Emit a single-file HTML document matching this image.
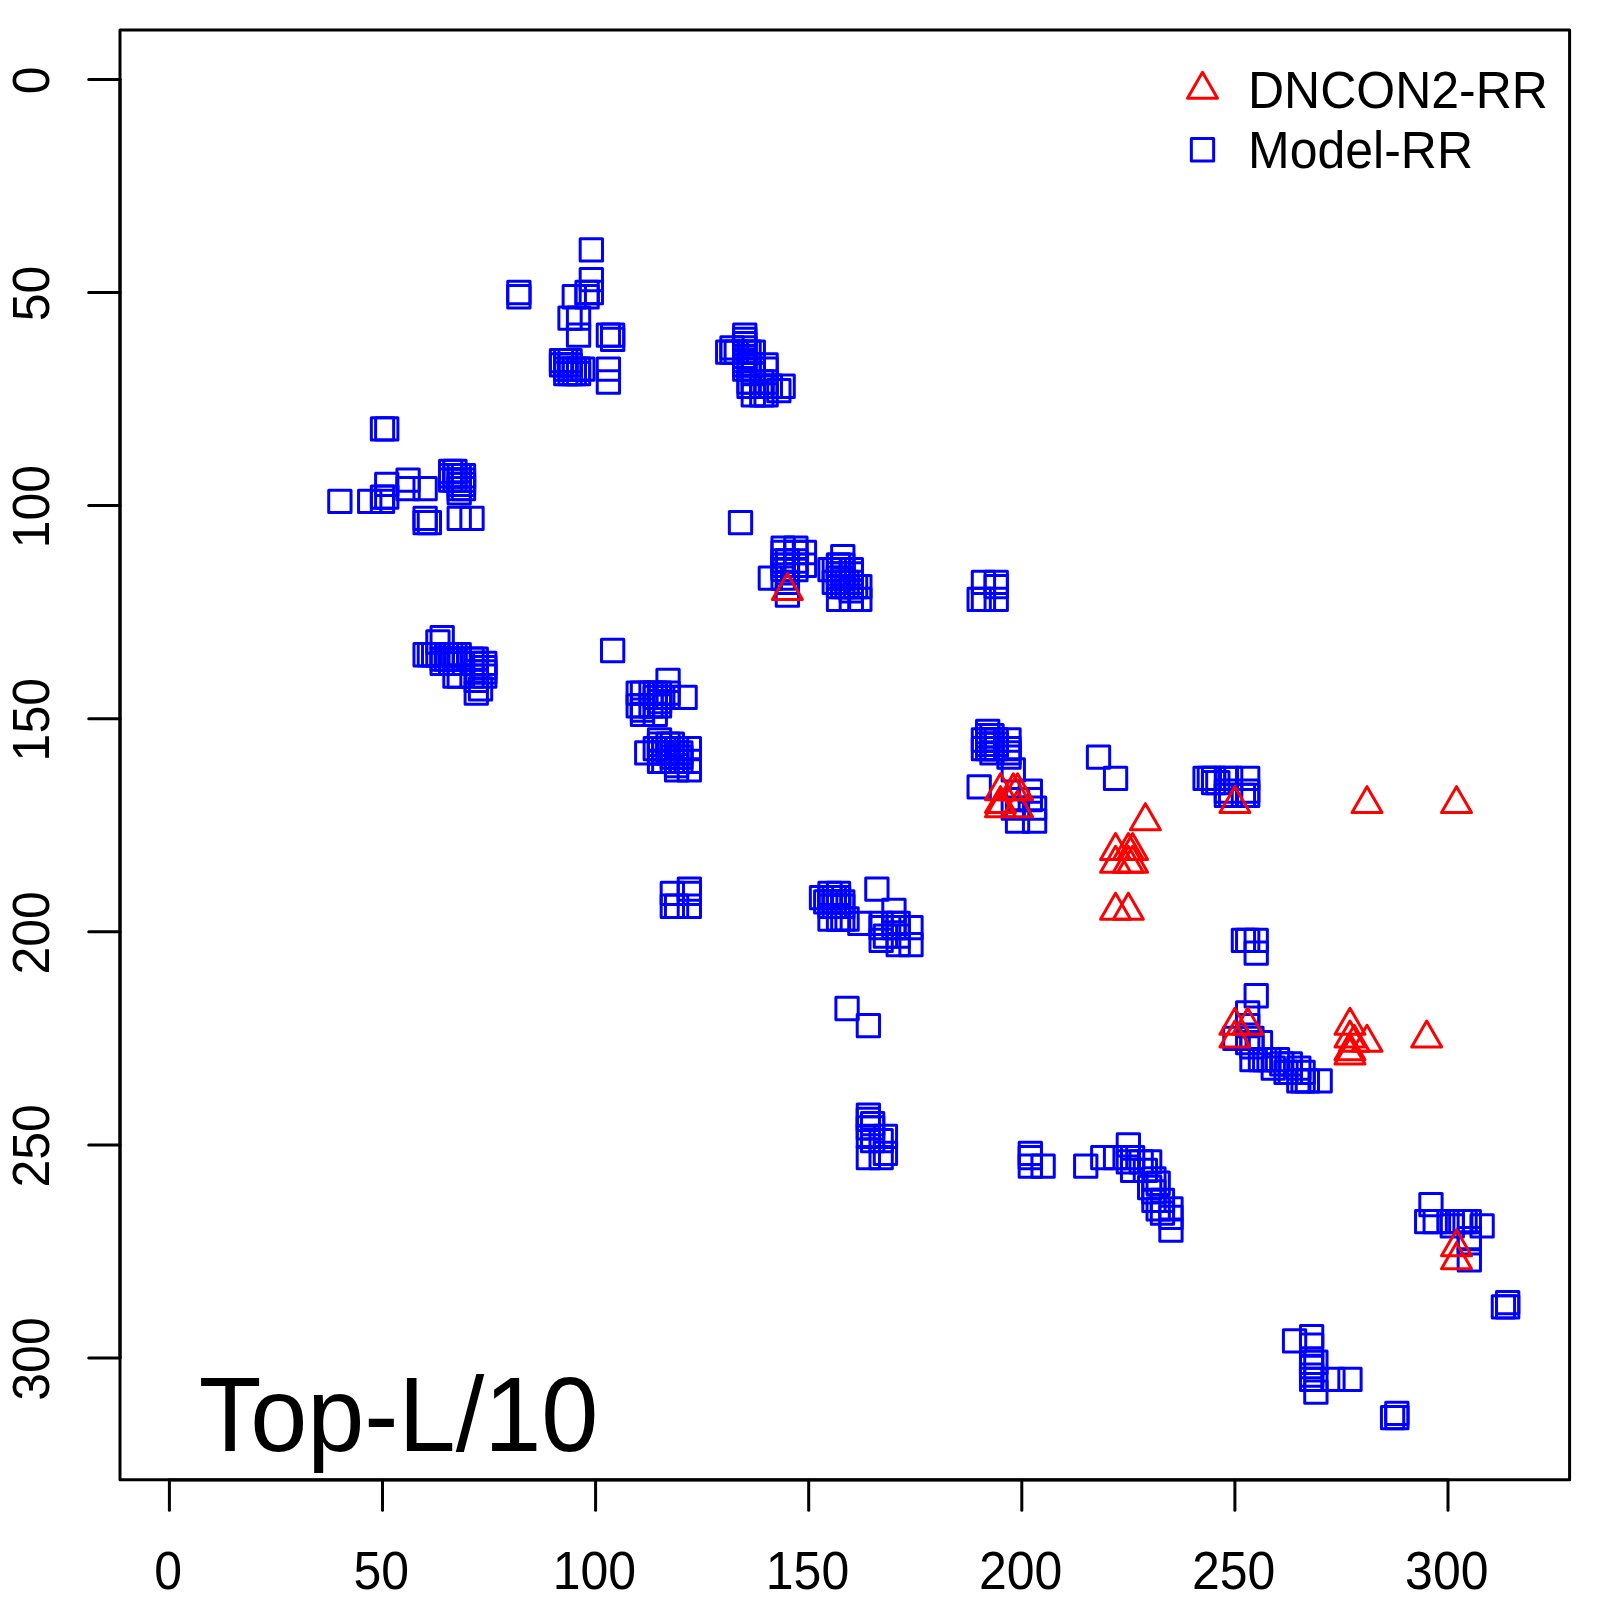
<!DOCTYPE html>
<html><head><meta charset="utf-8"><style>
html,body{margin:0;padding:0;background:#fff;width:1600px;height:1600px;overflow:hidden}
svg{display:block}
text{font-family:"Liberation Sans",sans-serif;fill:#000}
</style></head><body>
<svg width="1600" height="1600" viewBox="0 0 1600 1600">
<rect x="0" y="0" width="1600" height="1600" fill="#fff"/>

<rect x="120" y="30" width="1449.6" height="1449.8" fill="none" stroke="#000" stroke-width="3" stroke-linejoin="round"/>
<g stroke="#000" stroke-width="3" stroke-linecap="round" fill="none">
<line x1="169.40" y1="1480" x2="1448.00" y2="1480"/>
<line x1="169.40" y1="1480" x2="169.40" y2="1510.3"/>
<line x1="382.50" y1="1480" x2="382.50" y2="1510.3"/>
<line x1="595.60" y1="1480" x2="595.60" y2="1510.3"/>
<line x1="808.70" y1="1480" x2="808.70" y2="1510.3"/>
<line x1="1021.80" y1="1480" x2="1021.80" y2="1510.3"/>
<line x1="1234.90" y1="1480" x2="1234.90" y2="1510.3"/>
<line x1="1448.00" y1="1480" x2="1448.00" y2="1510.3"/>
<line x1="120" y1="79.40" x2="120" y2="1358.00"/>
<line x1="120" y1="79.40" x2="88.75" y2="79.40"/>
<line x1="120" y1="292.50" x2="88.75" y2="292.50"/>
<line x1="120" y1="505.60" x2="88.75" y2="505.60"/>
<line x1="120" y1="718.70" x2="88.75" y2="718.70"/>
<line x1="120" y1="931.80" x2="88.75" y2="931.80"/>
<line x1="120" y1="1144.90" x2="88.75" y2="1144.90"/>
<line x1="120" y1="1358.00" x2="88.75" y2="1358.00"/>
</g>
<g font-size="50" text-anchor="middle">
<text x="168.20" y="0" transform="translate(0 1588.8) scale(1 1.055)">0</text>
<text x="381.30" y="0" transform="translate(0 1588.8) scale(1 1.055)">50</text>
<text x="594.40" y="0" transform="translate(0 1588.8) scale(1 1.055)">100</text>
<text x="807.50" y="0" transform="translate(0 1588.8) scale(1 1.055)">150</text>
<text x="1020.60" y="0" transform="translate(0 1588.8) scale(1 1.055)">200</text>
<text x="1233.70" y="0" transform="translate(0 1588.8) scale(1 1.055)">250</text>
<text x="1446.80" y="0" transform="translate(0 1588.8) scale(1 1.055)">300</text>
<text x="0" y="0" transform="translate(48.6 80.40) rotate(-90) scale(1 1.04)">0</text>
<text x="0" y="0" transform="translate(48.6 293.50) rotate(-90) scale(1 1.04)">50</text>
<text x="0" y="0" transform="translate(48.6 506.60) rotate(-90) scale(1 1.04)">100</text>
<text x="0" y="0" transform="translate(48.6 719.70) rotate(-90) scale(1 1.04)">150</text>
<text x="0" y="0" transform="translate(48.6 932.80) rotate(-90) scale(1 1.04)">200</text>
<text x="0" y="0" transform="translate(48.6 1145.90) rotate(-90) scale(1 1.04)">250</text>
<text x="0" y="0" transform="translate(48.6 1359.00) rotate(-90) scale(1 1.04)">300</text>
</g>
<g fill="none" stroke="#0000ff" stroke-width="3" stroke-linejoin="round">
<rect x="729.36" y="511.50" width="22.3" height="22.3"/>
<rect x="371.35" y="417.73" width="22.3" height="22.3"/>
<rect x="375.61" y="417.73" width="22.3" height="22.3"/>
<rect x="328.73" y="490.19" width="22.3" height="22.3"/>
<rect x="358.56" y="490.19" width="22.3" height="22.3"/>
<rect x="371.35" y="485.93" width="22.3" height="22.3"/>
<rect x="371.35" y="490.19" width="22.3" height="22.3"/>
<rect x="375.61" y="473.14" width="22.3" height="22.3"/>
<rect x="375.61" y="485.93" width="22.3" height="22.3"/>
<rect x="396.92" y="468.88" width="22.3" height="22.3"/>
<rect x="396.92" y="477.40" width="22.3" height="22.3"/>
<rect x="413.97" y="477.40" width="22.3" height="22.3"/>
<rect x="439.54" y="460.35" width="22.3" height="22.3"/>
<rect x="439.54" y="464.62" width="22.3" height="22.3"/>
<rect x="439.54" y="468.88" width="22.3" height="22.3"/>
<rect x="443.80" y="460.35" width="22.3" height="22.3"/>
<rect x="443.80" y="464.62" width="22.3" height="22.3"/>
<rect x="443.80" y="468.88" width="22.3" height="22.3"/>
<rect x="448.07" y="464.62" width="22.3" height="22.3"/>
<rect x="448.07" y="468.88" width="22.3" height="22.3"/>
<rect x="448.07" y="473.14" width="22.3" height="22.3"/>
<rect x="448.07" y="477.40" width="22.3" height="22.3"/>
<rect x="448.07" y="481.66" width="22.3" height="22.3"/>
<rect x="452.33" y="464.62" width="22.3" height="22.3"/>
<rect x="452.33" y="468.88" width="22.3" height="22.3"/>
<rect x="452.33" y="473.14" width="22.3" height="22.3"/>
<rect x="452.33" y="477.40" width="22.3" height="22.3"/>
<rect x="413.97" y="507.24" width="22.3" height="22.3"/>
<rect x="413.97" y="511.50" width="22.3" height="22.3"/>
<rect x="418.23" y="511.50" width="22.3" height="22.3"/>
<rect x="448.07" y="507.24" width="22.3" height="22.3"/>
<rect x="460.85" y="507.24" width="22.3" height="22.3"/>
<rect x="580.19" y="238.73" width="22.3" height="22.3"/>
<rect x="507.73" y="281.35" width="22.3" height="22.3"/>
<rect x="507.73" y="285.61" width="22.3" height="22.3"/>
<rect x="580.19" y="268.56" width="22.3" height="22.3"/>
<rect x="563.14" y="285.61" width="22.3" height="22.3"/>
<rect x="575.93" y="281.35" width="22.3" height="22.3"/>
<rect x="575.93" y="285.61" width="22.3" height="22.3"/>
<rect x="580.19" y="281.35" width="22.3" height="22.3"/>
<rect x="558.88" y="306.92" width="22.3" height="22.3"/>
<rect x="567.40" y="306.92" width="22.3" height="22.3"/>
<rect x="567.40" y="323.97" width="22.3" height="22.3"/>
<rect x="597.24" y="323.97" width="22.3" height="22.3"/>
<rect x="601.50" y="323.97" width="22.3" height="22.3"/>
<rect x="601.50" y="328.23" width="22.3" height="22.3"/>
<rect x="597.24" y="358.07" width="22.3" height="22.3"/>
<rect x="597.24" y="370.85" width="22.3" height="22.3"/>
<rect x="550.35" y="349.54" width="22.3" height="22.3"/>
<rect x="550.35" y="353.80" width="22.3" height="22.3"/>
<rect x="554.62" y="349.54" width="22.3" height="22.3"/>
<rect x="554.62" y="353.80" width="22.3" height="22.3"/>
<rect x="554.62" y="358.07" width="22.3" height="22.3"/>
<rect x="554.62" y="362.33" width="22.3" height="22.3"/>
<rect x="558.88" y="349.54" width="22.3" height="22.3"/>
<rect x="558.88" y="353.80" width="22.3" height="22.3"/>
<rect x="558.88" y="358.07" width="22.3" height="22.3"/>
<rect x="558.88" y="362.33" width="22.3" height="22.3"/>
<rect x="563.14" y="358.07" width="22.3" height="22.3"/>
<rect x="563.14" y="362.33" width="22.3" height="22.3"/>
<rect x="567.40" y="358.07" width="22.3" height="22.3"/>
<rect x="567.40" y="362.33" width="22.3" height="22.3"/>
<rect x="571.66" y="358.07" width="22.3" height="22.3"/>
<rect x="716.57" y="341.02" width="22.3" height="22.3"/>
<rect x="720.83" y="336.76" width="22.3" height="22.3"/>
<rect x="720.83" y="341.02" width="22.3" height="22.3"/>
<rect x="725.10" y="341.02" width="22.3" height="22.3"/>
<rect x="733.62" y="323.97" width="22.3" height="22.3"/>
<rect x="733.62" y="328.23" width="22.3" height="22.3"/>
<rect x="733.62" y="332.49" width="22.3" height="22.3"/>
<rect x="733.62" y="336.76" width="22.3" height="22.3"/>
<rect x="733.62" y="341.02" width="22.3" height="22.3"/>
<rect x="733.62" y="345.28" width="22.3" height="22.3"/>
<rect x="733.62" y="349.54" width="22.3" height="22.3"/>
<rect x="733.62" y="353.80" width="22.3" height="22.3"/>
<rect x="733.62" y="358.07" width="22.3" height="22.3"/>
<rect x="737.88" y="341.02" width="22.3" height="22.3"/>
<rect x="737.88" y="353.80" width="22.3" height="22.3"/>
<rect x="737.88" y="358.07" width="22.3" height="22.3"/>
<rect x="737.88" y="370.85" width="22.3" height="22.3"/>
<rect x="737.88" y="375.11" width="22.3" height="22.3"/>
<rect x="742.14" y="341.02" width="22.3" height="22.3"/>
<rect x="742.14" y="353.80" width="22.3" height="22.3"/>
<rect x="742.14" y="358.07" width="22.3" height="22.3"/>
<rect x="742.14" y="362.33" width="22.3" height="22.3"/>
<rect x="742.14" y="370.85" width="22.3" height="22.3"/>
<rect x="742.14" y="383.64" width="22.3" height="22.3"/>
<rect x="750.67" y="370.85" width="22.3" height="22.3"/>
<rect x="750.67" y="375.11" width="22.3" height="22.3"/>
<rect x="750.67" y="383.64" width="22.3" height="22.3"/>
<rect x="754.93" y="353.80" width="22.3" height="22.3"/>
<rect x="754.93" y="358.07" width="22.3" height="22.3"/>
<rect x="754.93" y="370.85" width="22.3" height="22.3"/>
<rect x="754.93" y="375.11" width="22.3" height="22.3"/>
<rect x="754.93" y="383.64" width="22.3" height="22.3"/>
<rect x="759.19" y="375.11" width="22.3" height="22.3"/>
<rect x="767.72" y="379.38" width="22.3" height="22.3"/>
<rect x="771.98" y="375.11" width="22.3" height="22.3"/>
<rect x="627.07" y="681.98" width="22.3" height="22.3"/>
<rect x="627.07" y="694.76" width="22.3" height="22.3"/>
<rect x="631.33" y="681.98" width="22.3" height="22.3"/>
<rect x="631.33" y="694.76" width="22.3" height="22.3"/>
<rect x="631.33" y="699.03" width="22.3" height="22.3"/>
<rect x="631.33" y="703.29" width="22.3" height="22.3"/>
<rect x="639.86" y="681.98" width="22.3" height="22.3"/>
<rect x="639.86" y="694.76" width="22.3" height="22.3"/>
<rect x="644.12" y="681.98" width="22.3" height="22.3"/>
<rect x="644.12" y="686.24" width="22.3" height="22.3"/>
<rect x="644.12" y="694.76" width="22.3" height="22.3"/>
<rect x="644.12" y="703.29" width="22.3" height="22.3"/>
<rect x="648.38" y="681.98" width="22.3" height="22.3"/>
<rect x="648.38" y="686.24" width="22.3" height="22.3"/>
<rect x="648.38" y="690.50" width="22.3" height="22.3"/>
<rect x="648.38" y="694.76" width="22.3" height="22.3"/>
<rect x="656.90" y="669.19" width="22.3" height="22.3"/>
<rect x="656.90" y="681.98" width="22.3" height="22.3"/>
<rect x="656.90" y="686.24" width="22.3" height="22.3"/>
<rect x="673.95" y="686.24" width="22.3" height="22.3"/>
<rect x="648.38" y="728.86" width="22.3" height="22.3"/>
<rect x="661.17" y="733.12" width="22.3" height="22.3"/>
<rect x="635.59" y="741.65" width="22.3" height="22.3"/>
<rect x="644.12" y="737.38" width="22.3" height="22.3"/>
<rect x="648.38" y="733.12" width="22.3" height="22.3"/>
<rect x="648.38" y="737.38" width="22.3" height="22.3"/>
<rect x="648.38" y="741.65" width="22.3" height="22.3"/>
<rect x="648.38" y="750.17" width="22.3" height="22.3"/>
<rect x="652.64" y="737.38" width="22.3" height="22.3"/>
<rect x="652.64" y="741.65" width="22.3" height="22.3"/>
<rect x="652.64" y="750.17" width="22.3" height="22.3"/>
<rect x="656.90" y="733.12" width="22.3" height="22.3"/>
<rect x="656.90" y="737.38" width="22.3" height="22.3"/>
<rect x="656.90" y="741.65" width="22.3" height="22.3"/>
<rect x="661.17" y="737.38" width="22.3" height="22.3"/>
<rect x="661.17" y="741.65" width="22.3" height="22.3"/>
<rect x="661.17" y="745.91" width="22.3" height="22.3"/>
<rect x="661.17" y="750.17" width="22.3" height="22.3"/>
<rect x="665.43" y="737.38" width="22.3" height="22.3"/>
<rect x="665.43" y="741.65" width="22.3" height="22.3"/>
<rect x="665.43" y="745.91" width="22.3" height="22.3"/>
<rect x="665.43" y="750.17" width="22.3" height="22.3"/>
<rect x="665.43" y="754.43" width="22.3" height="22.3"/>
<rect x="665.43" y="758.69" width="22.3" height="22.3"/>
<rect x="669.69" y="741.65" width="22.3" height="22.3"/>
<rect x="669.69" y="745.91" width="22.3" height="22.3"/>
<rect x="669.69" y="750.17" width="22.3" height="22.3"/>
<rect x="678.21" y="737.38" width="22.3" height="22.3"/>
<rect x="678.21" y="750.17" width="22.3" height="22.3"/>
<rect x="678.21" y="758.69" width="22.3" height="22.3"/>
<rect x="771.98" y="537.07" width="22.3" height="22.3"/>
<rect x="771.98" y="541.33" width="22.3" height="22.3"/>
<rect x="771.98" y="549.86" width="22.3" height="22.3"/>
<rect x="771.98" y="554.12" width="22.3" height="22.3"/>
<rect x="771.98" y="558.38" width="22.3" height="22.3"/>
<rect x="771.98" y="566.90" width="22.3" height="22.3"/>
<rect x="776.24" y="549.86" width="22.3" height="22.3"/>
<rect x="776.24" y="554.12" width="22.3" height="22.3"/>
<rect x="776.24" y="558.38" width="22.3" height="22.3"/>
<rect x="776.24" y="571.17" width="22.3" height="22.3"/>
<rect x="776.24" y="583.95" width="22.3" height="22.3"/>
<rect x="784.76" y="537.07" width="22.3" height="22.3"/>
<rect x="784.76" y="541.33" width="22.3" height="22.3"/>
<rect x="784.76" y="549.86" width="22.3" height="22.3"/>
<rect x="784.76" y="554.12" width="22.3" height="22.3"/>
<rect x="784.76" y="558.38" width="22.3" height="22.3"/>
<rect x="793.29" y="541.33" width="22.3" height="22.3"/>
<rect x="793.29" y="554.12" width="22.3" height="22.3"/>
<rect x="759.19" y="566.90" width="22.3" height="22.3"/>
<rect x="831.65" y="545.59" width="22.3" height="22.3"/>
<rect x="827.38" y="554.12" width="22.3" height="22.3"/>
<rect x="818.86" y="558.38" width="22.3" height="22.3"/>
<rect x="840.17" y="558.38" width="22.3" height="22.3"/>
<rect x="848.69" y="575.43" width="22.3" height="22.3"/>
<rect x="823.12" y="558.38" width="22.3" height="22.3"/>
<rect x="823.12" y="571.17" width="22.3" height="22.3"/>
<rect x="827.38" y="554.12" width="22.3" height="22.3"/>
<rect x="827.38" y="558.38" width="22.3" height="22.3"/>
<rect x="827.38" y="562.64" width="22.3" height="22.3"/>
<rect x="827.38" y="566.90" width="22.3" height="22.3"/>
<rect x="827.38" y="571.17" width="22.3" height="22.3"/>
<rect x="827.38" y="575.43" width="22.3" height="22.3"/>
<rect x="827.38" y="588.21" width="22.3" height="22.3"/>
<rect x="831.65" y="554.12" width="22.3" height="22.3"/>
<rect x="831.65" y="558.38" width="22.3" height="22.3"/>
<rect x="831.65" y="562.64" width="22.3" height="22.3"/>
<rect x="831.65" y="566.90" width="22.3" height="22.3"/>
<rect x="831.65" y="571.17" width="22.3" height="22.3"/>
<rect x="831.65" y="575.43" width="22.3" height="22.3"/>
<rect x="835.91" y="571.17" width="22.3" height="22.3"/>
<rect x="835.91" y="575.43" width="22.3" height="22.3"/>
<rect x="840.17" y="562.64" width="22.3" height="22.3"/>
<rect x="840.17" y="571.17" width="22.3" height="22.3"/>
<rect x="840.17" y="575.43" width="22.3" height="22.3"/>
<rect x="840.17" y="579.69" width="22.3" height="22.3"/>
<rect x="840.17" y="588.21" width="22.3" height="22.3"/>
<rect x="844.43" y="575.43" width="22.3" height="22.3"/>
<rect x="848.69" y="588.21" width="22.3" height="22.3"/>
<rect x="431.02" y="626.57" width="22.3" height="22.3"/>
<rect x="426.76" y="630.83" width="22.3" height="22.3"/>
<rect x="413.97" y="643.62" width="22.3" height="22.3"/>
<rect x="418.23" y="643.62" width="22.3" height="22.3"/>
<rect x="422.49" y="643.62" width="22.3" height="22.3"/>
<rect x="426.76" y="643.62" width="22.3" height="22.3"/>
<rect x="431.02" y="643.62" width="22.3" height="22.3"/>
<rect x="435.28" y="643.62" width="22.3" height="22.3"/>
<rect x="439.54" y="643.62" width="22.3" height="22.3"/>
<rect x="443.80" y="643.62" width="22.3" height="22.3"/>
<rect x="448.07" y="643.62" width="22.3" height="22.3"/>
<rect x="431.02" y="647.88" width="22.3" height="22.3"/>
<rect x="435.28" y="647.88" width="22.3" height="22.3"/>
<rect x="439.54" y="647.88" width="22.3" height="22.3"/>
<rect x="443.80" y="647.88" width="22.3" height="22.3"/>
<rect x="448.07" y="647.88" width="22.3" height="22.3"/>
<rect x="460.85" y="647.88" width="22.3" height="22.3"/>
<rect x="465.11" y="647.88" width="22.3" height="22.3"/>
<rect x="431.02" y="652.14" width="22.3" height="22.3"/>
<rect x="439.54" y="652.14" width="22.3" height="22.3"/>
<rect x="448.07" y="652.14" width="22.3" height="22.3"/>
<rect x="465.11" y="652.14" width="22.3" height="22.3"/>
<rect x="473.64" y="652.14" width="22.3" height="22.3"/>
<rect x="443.80" y="664.93" width="22.3" height="22.3"/>
<rect x="448.07" y="664.93" width="22.3" height="22.3"/>
<rect x="460.85" y="664.93" width="22.3" height="22.3"/>
<rect x="473.64" y="656.41" width="22.3" height="22.3"/>
<rect x="473.64" y="660.67" width="22.3" height="22.3"/>
<rect x="473.64" y="664.93" width="22.3" height="22.3"/>
<rect x="465.11" y="660.67" width="22.3" height="22.3"/>
<rect x="465.11" y="669.19" width="22.3" height="22.3"/>
<rect x="465.11" y="681.98" width="22.3" height="22.3"/>
<rect x="469.38" y="677.72" width="22.3" height="22.3"/>
<rect x="601.50" y="639.36" width="22.3" height="22.3"/>
<rect x="678.21" y="878.03" width="22.3" height="22.3"/>
<rect x="678.21" y="882.29" width="22.3" height="22.3"/>
<rect x="661.17" y="882.29" width="22.3" height="22.3"/>
<rect x="661.17" y="895.08" width="22.3" height="22.3"/>
<rect x="665.43" y="895.08" width="22.3" height="22.3"/>
<rect x="678.21" y="895.08" width="22.3" height="22.3"/>
<rect x="810.34" y="886.55" width="22.3" height="22.3"/>
<rect x="814.60" y="890.82" width="22.3" height="22.3"/>
<rect x="818.86" y="882.29" width="22.3" height="22.3"/>
<rect x="827.38" y="882.29" width="22.3" height="22.3"/>
<rect x="818.86" y="886.55" width="22.3" height="22.3"/>
<rect x="818.86" y="890.82" width="22.3" height="22.3"/>
<rect x="818.86" y="895.08" width="22.3" height="22.3"/>
<rect x="818.86" y="907.86" width="22.3" height="22.3"/>
<rect x="823.12" y="886.55" width="22.3" height="22.3"/>
<rect x="823.12" y="890.82" width="22.3" height="22.3"/>
<rect x="823.12" y="895.08" width="22.3" height="22.3"/>
<rect x="827.38" y="886.55" width="22.3" height="22.3"/>
<rect x="827.38" y="890.82" width="22.3" height="22.3"/>
<rect x="827.38" y="895.08" width="22.3" height="22.3"/>
<rect x="827.38" y="907.86" width="22.3" height="22.3"/>
<rect x="831.65" y="890.82" width="22.3" height="22.3"/>
<rect x="831.65" y="895.08" width="22.3" height="22.3"/>
<rect x="831.65" y="907.86" width="22.3" height="22.3"/>
<rect x="835.91" y="907.86" width="22.3" height="22.3"/>
<rect x="865.74" y="878.03" width="22.3" height="22.3"/>
<rect x="882.79" y="899.34" width="22.3" height="22.3"/>
<rect x="848.69" y="912.13" width="22.3" height="22.3"/>
<rect x="899.84" y="916.39" width="22.3" height="22.3"/>
<rect x="899.84" y="933.44" width="22.3" height="22.3"/>
<rect x="870.00" y="912.13" width="22.3" height="22.3"/>
<rect x="870.00" y="916.39" width="22.3" height="22.3"/>
<rect x="870.00" y="929.17" width="22.3" height="22.3"/>
<rect x="874.27" y="924.91" width="22.3" height="22.3"/>
<rect x="882.79" y="912.13" width="22.3" height="22.3"/>
<rect x="882.79" y="916.39" width="22.3" height="22.3"/>
<rect x="887.05" y="912.13" width="22.3" height="22.3"/>
<rect x="887.05" y="916.39" width="22.3" height="22.3"/>
<rect x="887.05" y="924.91" width="22.3" height="22.3"/>
<rect x="887.05" y="933.44" width="22.3" height="22.3"/>
<rect x="972.29" y="571.17" width="22.3" height="22.3"/>
<rect x="985.08" y="571.17" width="22.3" height="22.3"/>
<rect x="985.08" y="575.43" width="22.3" height="22.3"/>
<rect x="968.03" y="588.21" width="22.3" height="22.3"/>
<rect x="972.29" y="588.21" width="22.3" height="22.3"/>
<rect x="985.08" y="588.21" width="22.3" height="22.3"/>
<rect x="976.55" y="720.34" width="22.3" height="22.3"/>
<rect x="980.82" y="724.60" width="22.3" height="22.3"/>
<rect x="972.29" y="728.86" width="22.3" height="22.3"/>
<rect x="972.29" y="737.38" width="22.3" height="22.3"/>
<rect x="980.82" y="741.65" width="22.3" height="22.3"/>
<rect x="997.86" y="745.91" width="22.3" height="22.3"/>
<rect x="976.55" y="724.60" width="22.3" height="22.3"/>
<rect x="976.55" y="728.86" width="22.3" height="22.3"/>
<rect x="976.55" y="733.12" width="22.3" height="22.3"/>
<rect x="976.55" y="737.38" width="22.3" height="22.3"/>
<rect x="980.82" y="728.86" width="22.3" height="22.3"/>
<rect x="980.82" y="733.12" width="22.3" height="22.3"/>
<rect x="980.82" y="737.38" width="22.3" height="22.3"/>
<rect x="985.08" y="728.86" width="22.3" height="22.3"/>
<rect x="985.08" y="733.12" width="22.3" height="22.3"/>
<rect x="985.08" y="737.38" width="22.3" height="22.3"/>
<rect x="997.86" y="728.86" width="22.3" height="22.3"/>
<rect x="997.86" y="737.38" width="22.3" height="22.3"/>
<rect x="997.86" y="741.65" width="22.3" height="22.3"/>
<rect x="968.03" y="775.74" width="22.3" height="22.3"/>
<rect x="1002.13" y="758.69" width="22.3" height="22.3"/>
<rect x="1002.13" y="797.05" width="22.3" height="22.3"/>
<rect x="1019.17" y="780.00" width="22.3" height="22.3"/>
<rect x="1023.44" y="797.05" width="22.3" height="22.3"/>
<rect x="1006.39" y="809.84" width="22.3" height="22.3"/>
<rect x="1023.44" y="809.84" width="22.3" height="22.3"/>
<rect x="1019.17" y="788.53" width="22.3" height="22.3"/>
<rect x="1006.39" y="788.53" width="22.3" height="22.3"/>
<rect x="1087.37" y="745.91" width="22.3" height="22.3"/>
<rect x="1104.41" y="767.22" width="22.3" height="22.3"/>
<rect x="1193.92" y="767.22" width="22.3" height="22.3"/>
<rect x="1198.18" y="767.22" width="22.3" height="22.3"/>
<rect x="1202.44" y="767.22" width="22.3" height="22.3"/>
<rect x="1202.44" y="771.48" width="22.3" height="22.3"/>
<rect x="1206.70" y="771.48" width="22.3" height="22.3"/>
<rect x="1215.23" y="767.22" width="22.3" height="22.3"/>
<rect x="1219.49" y="767.22" width="22.3" height="22.3"/>
<rect x="1215.23" y="780.00" width="22.3" height="22.3"/>
<rect x="1215.23" y="784.27" width="22.3" height="22.3"/>
<rect x="1219.49" y="784.27" width="22.3" height="22.3"/>
<rect x="1232.27" y="784.27" width="22.3" height="22.3"/>
<rect x="1236.54" y="767.22" width="22.3" height="22.3"/>
<rect x="1236.54" y="780.00" width="22.3" height="22.3"/>
<rect x="1236.54" y="784.27" width="22.3" height="22.3"/>
<rect x="1232.27" y="929.17" width="22.3" height="22.3"/>
<rect x="1236.54" y="929.17" width="22.3" height="22.3"/>
<rect x="1245.06" y="929.17" width="22.3" height="22.3"/>
<rect x="1245.06" y="941.96" width="22.3" height="22.3"/>
<rect x="1245.06" y="984.58" width="22.3" height="22.3"/>
<rect x="1236.54" y="1001.63" width="22.3" height="22.3"/>
<rect x="1236.54" y="1014.41" width="22.3" height="22.3"/>
<rect x="1236.54" y="1031.46" width="22.3" height="22.3"/>
<rect x="1223.75" y="1027.20" width="22.3" height="22.3"/>
<rect x="1240.80" y="1027.20" width="22.3" height="22.3"/>
<rect x="1240.80" y="1035.72" width="22.3" height="22.3"/>
<rect x="1240.80" y="1048.51" width="22.3" height="22.3"/>
<rect x="1249.32" y="1031.46" width="22.3" height="22.3"/>
<rect x="1249.32" y="1048.51" width="22.3" height="22.3"/>
<rect x="1262.11" y="1057.03" width="22.3" height="22.3"/>
<rect x="1266.37" y="1048.51" width="22.3" height="22.3"/>
<rect x="1279.16" y="1052.77" width="22.3" height="22.3"/>
<rect x="1279.16" y="1061.30" width="22.3" height="22.3"/>
<rect x="1287.68" y="1057.03" width="22.3" height="22.3"/>
<rect x="1287.68" y="1069.82" width="22.3" height="22.3"/>
<rect x="1291.94" y="1061.30" width="22.3" height="22.3"/>
<rect x="1291.94" y="1069.82" width="22.3" height="22.3"/>
<rect x="1296.20" y="1069.82" width="22.3" height="22.3"/>
<rect x="1308.99" y="1069.82" width="22.3" height="22.3"/>
<rect x="1253.58" y="1048.51" width="22.3" height="22.3"/>
<rect x="1270.63" y="1052.77" width="22.3" height="22.3"/>
<rect x="1257.85" y="1048.51" width="22.3" height="22.3"/>
<rect x="1274.89" y="1061.30" width="22.3" height="22.3"/>
<rect x="835.91" y="997.37" width="22.3" height="22.3"/>
<rect x="857.22" y="1014.41" width="22.3" height="22.3"/>
<rect x="857.22" y="1103.92" width="22.3" height="22.3"/>
<rect x="857.22" y="1108.18" width="22.3" height="22.3"/>
<rect x="861.48" y="1112.44" width="22.3" height="22.3"/>
<rect x="861.48" y="1116.70" width="22.3" height="22.3"/>
<rect x="857.22" y="1116.70" width="22.3" height="22.3"/>
<rect x="874.27" y="1125.23" width="22.3" height="22.3"/>
<rect x="857.22" y="1125.23" width="22.3" height="22.3"/>
<rect x="861.48" y="1129.49" width="22.3" height="22.3"/>
<rect x="870.00" y="1129.49" width="22.3" height="22.3"/>
<rect x="874.27" y="1142.27" width="22.3" height="22.3"/>
<rect x="857.22" y="1146.54" width="22.3" height="22.3"/>
<rect x="870.00" y="1146.54" width="22.3" height="22.3"/>
<rect x="1019.17" y="1142.27" width="22.3" height="22.3"/>
<rect x="1019.17" y="1146.54" width="22.3" height="22.3"/>
<rect x="1019.17" y="1155.06" width="22.3" height="22.3"/>
<rect x="1031.96" y="1155.06" width="22.3" height="22.3"/>
<rect x="1074.58" y="1155.06" width="22.3" height="22.3"/>
<rect x="1091.63" y="1146.54" width="22.3" height="22.3"/>
<rect x="1104.41" y="1146.54" width="22.3" height="22.3"/>
<rect x="1117.20" y="1133.75" width="22.3" height="22.3"/>
<rect x="1117.20" y="1150.80" width="22.3" height="22.3"/>
<rect x="1121.46" y="1146.54" width="22.3" height="22.3"/>
<rect x="1121.46" y="1159.32" width="22.3" height="22.3"/>
<rect x="1129.99" y="1150.80" width="22.3" height="22.3"/>
<rect x="1138.51" y="1150.80" width="22.3" height="22.3"/>
<rect x="1134.25" y="1159.32" width="22.3" height="22.3"/>
<rect x="1138.51" y="1176.37" width="22.3" height="22.3"/>
<rect x="1147.03" y="1172.11" width="22.3" height="22.3"/>
<rect x="1142.77" y="1189.16" width="22.3" height="22.3"/>
<rect x="1147.03" y="1197.68" width="22.3" height="22.3"/>
<rect x="1151.30" y="1189.16" width="22.3" height="22.3"/>
<rect x="1151.30" y="1201.94" width="22.3" height="22.3"/>
<rect x="1159.82" y="1197.68" width="22.3" height="22.3"/>
<rect x="1159.82" y="1206.20" width="22.3" height="22.3"/>
<rect x="1159.82" y="1218.99" width="22.3" height="22.3"/>
<rect x="1142.77" y="1167.85" width="22.3" height="22.3"/>
<rect x="1142.77" y="1180.63" width="22.3" height="22.3"/>
<rect x="1419.80" y="1193.42" width="22.3" height="22.3"/>
<rect x="1415.54" y="1210.47" width="22.3" height="22.3"/>
<rect x="1424.06" y="1210.47" width="22.3" height="22.3"/>
<rect x="1441.11" y="1210.47" width="22.3" height="22.3"/>
<rect x="1449.64" y="1210.47" width="22.3" height="22.3"/>
<rect x="1453.90" y="1210.47" width="22.3" height="22.3"/>
<rect x="1458.16" y="1210.47" width="22.3" height="22.3"/>
<rect x="1441.11" y="1214.73" width="22.3" height="22.3"/>
<rect x="1470.95" y="1214.73" width="22.3" height="22.3"/>
<rect x="1458.16" y="1227.51" width="22.3" height="22.3"/>
<rect x="1458.16" y="1231.78" width="22.3" height="22.3"/>
<rect x="1458.16" y="1248.82" width="22.3" height="22.3"/>
<rect x="1492.26" y="1295.71" width="22.3" height="22.3"/>
<rect x="1496.52" y="1291.44" width="22.3" height="22.3"/>
<rect x="1496.52" y="1295.71" width="22.3" height="22.3"/>
<rect x="1283.42" y="1329.80" width="22.3" height="22.3"/>
<rect x="1300.47" y="1325.54" width="22.3" height="22.3"/>
<rect x="1300.47" y="1334.06" width="22.3" height="22.3"/>
<rect x="1300.47" y="1351.11" width="22.3" height="22.3"/>
<rect x="1304.73" y="1351.11" width="22.3" height="22.3"/>
<rect x="1300.47" y="1355.37" width="22.3" height="22.3"/>
<rect x="1300.47" y="1363.90" width="22.3" height="22.3"/>
<rect x="1300.47" y="1368.16" width="22.3" height="22.3"/>
<rect x="1304.73" y="1368.16" width="22.3" height="22.3"/>
<rect x="1304.73" y="1380.95" width="22.3" height="22.3"/>
<rect x="1321.78" y="1368.16" width="22.3" height="22.3"/>
<rect x="1338.82" y="1368.16" width="22.3" height="22.3"/>
<rect x="1381.44" y="1406.52" width="22.3" height="22.3"/>
<rect x="1385.71" y="1402.26" width="22.3" height="22.3"/>
<rect x="1385.71" y="1406.52" width="22.3" height="22.3"/>
</g>
<g fill="none" stroke="#ff0000" stroke-width="3" stroke-linejoin="round">
<path d="M1367.02 786.64L1382.02 812.60L1352.02 812.60Z"/>
<path d="M787.39 573.54L802.39 599.50L772.39 599.50Z"/>
<path d="M1000.49 773.85L1015.49 799.81L985.49 799.81Z"/>
<path d="M1013.28 773.85L1028.28 799.81L998.28 799.81Z"/>
<path d="M1017.54 773.85L1032.54 799.81L1002.54 799.81Z"/>
<path d="M1000.49 786.64L1015.49 812.60L985.49 812.60Z"/>
<path d="M1000.49 790.90L1015.49 816.86L985.49 816.86Z"/>
<path d="M1017.54 790.90L1032.54 816.86L1002.54 816.86Z"/>
<path d="M1145.40 803.69L1160.40 829.65L1130.40 829.65Z"/>
<path d="M1115.56 833.52L1130.56 859.48L1100.56 859.48Z"/>
<path d="M1128.35 833.52L1143.35 859.48L1113.35 859.48Z"/>
<path d="M1132.61 833.52L1147.61 859.48L1117.61 859.48Z"/>
<path d="M1115.56 846.31L1130.56 872.27L1100.56 872.27Z"/>
<path d="M1128.35 846.31L1143.35 872.27L1113.35 872.27Z"/>
<path d="M1132.61 846.31L1147.61 872.27L1117.61 872.27Z"/>
<path d="M1115.56 893.19L1130.56 919.15L1100.56 919.15Z"/>
<path d="M1128.35 893.19L1143.35 919.15L1113.35 919.15Z"/>
<path d="M1234.90 786.64L1249.90 812.60L1219.90 812.60Z"/>
<path d="M1234.90 1008.26L1249.90 1034.22L1219.90 1034.22Z"/>
<path d="M1247.69 1008.26L1262.69 1034.22L1232.69 1034.22Z"/>
<path d="M1234.90 1021.05L1249.90 1047.01L1219.90 1047.01Z"/>
<path d="M1349.97 1008.26L1364.97 1034.22L1334.97 1034.22Z"/>
<path d="M1349.97 1021.05L1364.97 1047.01L1334.97 1047.01Z"/>
<path d="M1354.24 1025.31L1369.24 1051.27L1339.24 1051.27Z"/>
<path d="M1367.02 1025.31L1382.02 1051.27L1352.02 1051.27Z"/>
<path d="M1349.97 1033.84L1364.97 1059.80L1334.97 1059.80Z"/>
<path d="M1349.97 1038.10L1364.97 1064.06L1334.97 1064.06Z"/>
<path d="M1426.69 1021.05L1441.69 1047.01L1411.69 1047.01Z"/>
<path d="M1456.52 1229.89L1471.52 1255.85L1441.52 1255.85Z"/>
<path d="M1456.52 1242.67L1471.52 1268.63L1441.52 1268.63Z"/>
<path d="M1456.52 786.64L1471.52 812.60L1441.52 812.60Z"/>
</g>
<path d="M1202.50 72.20L1217.50 98.16L1187.50 98.16Z" fill="none" stroke="#ff0000" stroke-width="3" stroke-linejoin="round"/>
<rect x="1191.35" y="138.60" width="22.3" height="22.3" fill="none" stroke="#0000ff" stroke-width="3" stroke-linejoin="round"/>
<g font-size="50">
<text x="1248" y="0" transform="translate(0 108) scale(1 1.045)">DNCON2-RR</text>
<text x="1248" y="0" transform="translate(0 168) scale(1 1.045)">Model-RR</text>
</g>
<text x="198.8" y="0" font-size="102.7" transform="translate(0 1451) scale(1 1.035)">Top-L/10</text>
</svg></body></html>
